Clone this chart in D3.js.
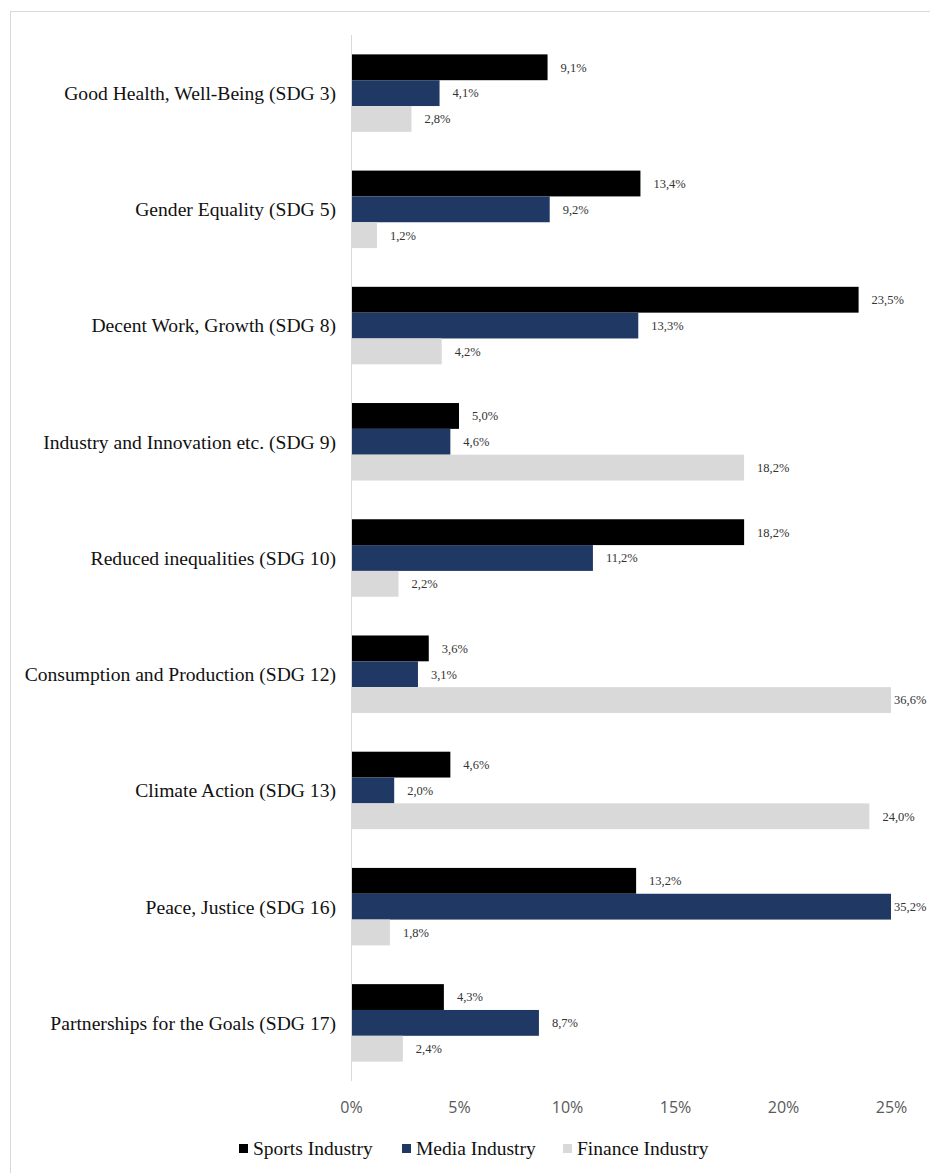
<!DOCTYPE html>
<html><head><meta charset="utf-8">
<script src="https://cdn.jsdelivr.net/npm/d3@7"></script>
<style>html,body{margin:0;padding:0;background:#fff;}</style>
</head><body>
<svg id="chart" width="930" height="1173"></svg>
<script>
const categories = ["Good Health, Well-Being (SDG 3)","Gender Equality (SDG 5)","Decent Work, Growth (SDG 8)","Industry and Innovation etc. (SDG 9)","Reduced inequalities (SDG 10)","Consumption and Production (SDG 12)","Climate Action (SDG 13)","Peace, Justice (SDG 16)","Partnerships for the Goals (SDG 17)"];
const seriesNames = ["Sports Industry","Media Industry","Finance Industry"];
const sports = [9.1,13.4,23.5,5.0,18.2,3.6,4.6,13.2,4.3];
const media = [4.1,9.2,13.3,4.6,11.2,3.1,2.0,35.2,8.7];
const finance = [2.8,1.2,4.2,18.2,2.2,36.6,24.0,1.8,2.4];
const ticks = [0,5,10,15,20,25];
const colors = ["#000000","#203864","#D9D9D9"];

(function(){
const svg = d3.select("#chart");
const series = [sports, media, finance];
const pL = 351, pR = 891, pT = 35, pB = 1081;
const xMax = 25;
const x = d3.scaleLinear().domain([0, xMax]).range([pL, pR]).clamp(true);
const y0 = d3.scaleBand().domain(categories).range([pT, pB]).paddingInner(0.3333).paddingOuter(0.1667);
const y1 = d3.scaleBand().domain(seriesNames).range([0, y0.bandwidth()]);

svg.append("rect").attr("x",10.5).attr("y",11.5).attr("width",1000).attr("height",1300)
  .attr("fill","none").attr("stroke","#d9d9d9").attr("stroke-width",1);

const g = svg.append("g");
categories.forEach((c, i) => {
  seriesNames.forEach((s, j) => {
    const v = series[j][i];
    const yy = y0(c) + y1(s);
    g.append("rect").attr("x", pL).attr("y", yy)
      .attr("width", x(v) - pL).attr("height", y1.bandwidth())
      .attr("fill", colors[j]);
    const clipped = v > xMax;
    g.append("text").attr("x", x(v) + (clipped ? 3 : 13)).attr("y", yy + y1.bandwidth()/2)
      .attr("dy","0.35em").attr("font-family","Liberation Serif, serif").attr("font-size",12.5)
      .attr("fill","#333").text(v.toFixed(1).replace(".", ",") + "%");
  });
  svg.append("text").attr("x", 336).attr("y", y0(c) + y0.bandwidth()/2)
    .attr("dy","0.35em").attr("text-anchor","end").attr("font-family","Liberation Serif, serif")
    .attr("font-size",19.6).attr("fill","#111").text(c);
});

svg.append("line").attr("x1",pL+0.5).attr("x2",pL+0.5).attr("y1",pT).attr("y2",pB)
  .attr("stroke","#d9d9d9").attr("stroke-width",1);

const xAxis = d3.axisBottom(d3.scaleLinear().domain([0,xMax]).range([pL,pR]))
  .tickValues(ticks).tickSize(0).tickFormat(d => d + "%");
const ax = svg.append("g").attr("transform", `translate(0,${1102})`).call(xAxis);
ax.select(".domain").remove();
ax.selectAll("text").attr("font-family","Open Sans, sans-serif").attr("font-size",16).attr("fill","#595959").attr("dy","0.5em");

const legX = [239, 402, 563];
seriesNames.forEach((s, j) => {
  svg.append("rect").attr("x", legX[j]).attr("y", 1144).attr("width", 9).attr("height", 9).attr("fill", colors[j]);
  svg.append("text").attr("x", legX[j] + 14).attr("y", 1148).attr("dy","0.35em")
    .attr("font-family","Liberation Serif, serif").attr("font-size",19.5).attr("fill","#111").text(s);
});
})();
</script>
</body></html>
